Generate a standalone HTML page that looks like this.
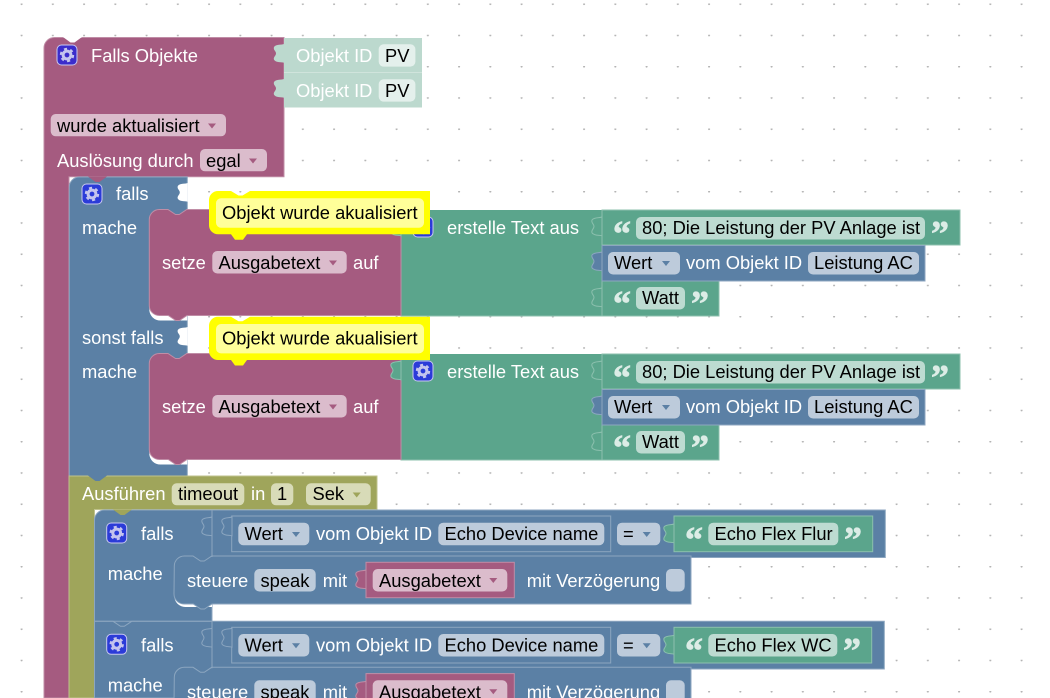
<!DOCTYPE html>
<html><head><meta charset="utf-8"><style>
html,body{margin:0;padding:0;background:#fff;width:1050px;height:698px;overflow:hidden}
svg{display:block}
text{font-family:"Liberation Sans",Arial,sans-serif;font-size:18.33px;fill:#fff;white-space:pre}
.k{fill:#000}
.q{font-family:"Liberation Serif",serif;font-weight:bold;font-size:36px;fill:#dcece6;stroke:#dcece6;stroke-width:.7px}
.p{fill:#dbbccc}.b{fill:#bdcbdb}.g{fill:#bddbd1}.o{fill:#d8dbb8}
</style></head><body>
<svg width="1050" height="698" viewBox="0 0 1050 698" xmlns="http://www.w3.org/2000/svg">
<defs>
<pattern id="dots" x="21" y="3.5" width="31.25" height="31.25" patternUnits="userSpaceOnUse"><circle cx="0.6" cy="0.6" r="1" fill="#b4b4b4"/><circle cx="31.85" cy="0.6" r="1" fill="#b4b4b4"/></pattern>
<path id="tab" d="M0 0C-2 1-8 0-10 3C-11 6-8 7-8 9.4C-8 12-11 13-10 15.8C-8 19-2 18 0 18.8Z"/>
<g id="gear"><rect x="0" y="0" width="20" height="20" rx="4.5" stroke="#c8c8f0" stroke-width="1"/><circle cx="10" cy="10" r="3.9" fill="none" stroke="#c4c4ee" stroke-width="3"/><circle cx="10" cy="10" r="6" fill="none" stroke="#c4c4ee" stroke-width="2.4" stroke-dasharray="3 3.28"/></g>
<g id="tx">
 <rect x="401" y="210" width="201" height="106" fill="#5ba58c"/>
 <rect x="602" y="210" width="358" height="35" fill="#5ba58c" stroke="#8cc0ae"/>
 <rect x="602" y="281" width="117" height="35" fill="#5ba58c" stroke="#8cc0ae"/>
 <rect x="602" y="245.5" width="323" height="35.5" fill="#5b80a5" stroke="#8ca6c0"/>
 <use href="#tab" x="602" y="217" fill="#5ba58c" stroke="#8cc0ae"/>
 <use href="#tab" x="602" y="252" fill="#5b80a5" stroke="#8ca6c0"/>
 <use href="#tab" x="602" y="288" fill="#5ba58c" stroke="#8cc0ae"/>
 <path d="M401 210V316H602" fill="none" stroke="#8cc0ae"/>
 <text x="447" y="234">erstelle Text aus</text>
 <text class="q" x="613" y="245.5">“</text>
 <rect class="g" x="636" y="217" width="289" height="22.5" rx="5"/>
 <text class="k" x="642" y="234">80; Die Leistung der PV Anlage ist</text>
 <text class="q" x="931" y="245.5">”</text>
 <rect class="b" x="608" y="252" width="72" height="22.5" rx="5"/>
 <text class="k" x="614" y="269">Wert</text>
 <polygon points="662,261 670,261 666,266" fill="#5b80a5"/>
 <text x="686" y="269">vom Objekt ID</text>
 <rect class="b" x="808" y="252" width="111" height="22.5" rx="5"/>
 <text class="k" x="814" y="269">Leistung AC</text>
 <text class="q" x="613" y="315.5">“</text>
 <rect class="g" x="636" y="287" width="49" height="22.5" rx="5"/>
 <text class="k" x="642" y="304">Watt</text>
 <text class="q" x="691" y="315.5">”</text>
</g>
<g id="setz">
 <path d="M149.3 300V310a11 11 0 0 0 11 10.5H187.3V300Z" fill="#fff"/>
 <path d="M149.3 219.5a10 10 0 0 1 10-10H168l7.5 5h3.75l7.5-5H401V315.5H187l-7.5 5h-3.75l-7.5-5H159.3a10 10 0 0 1-10-10Z" fill="#a55b80" stroke="#c08da6" stroke-width="1"/>
 <text x="162" y="269">setze</text>
 <rect class="p" x="212.3" y="251" width="134.4" height="22.5" rx="5"/>
 <text class="k" x="218.5" y="269">Ausgabetext</text>
 <polygon points="329,260.5 337,260.5 333,265.5" fill="#a55b80"/>
 <text x="353" y="269">auf</text>
</g>
<g id="yel">
 <path d="M218 191H231l7.5 4.5h4l7.5-4.5H430V234.3H247l-4 5.5h-8l-4-5.5H218a9 9 0 0 1-9-9V200a9 9 0 0 1 9-9Z" fill="#ffff00"/>
 <rect x="216" y="198.3" width="208" height="29.4" rx="5" fill="#ffff99"/>
 <text class="k" x="222" y="219">Objekt wurde akualisiert</text>
</g>
<g id="st">
 <path d="M174.3 590V596a11 11 0 0 0 11 11H212V590Z" fill="#fff"/>
 <path d="M174.3 566a10 10 0 0 1 10-10H193l7.5 5h3.75l7.5-5H691V604H212l-7.5 5h-3.75l-7.5-5H184a10 10 0 0 1-10-10Z" fill="#5b80a5" stroke="#8ca6c0"/>
 <text x="187" y="587">steuere</text>
 <rect class="b" x="254.3" y="569" width="61.4" height="22.5" rx="5"/>
 <text class="k" x="260.5" y="587">speak</text>
 <text x="322.7" y="587">mit</text>
 <rect x="366" y="562.3" width="148.3" height="35.4" fill="#a55b80" stroke="#c08da6"/>
 <use href="#tab" x="366" y="570" fill="#a55b80" stroke="#c08da6"/>
 <rect class="p" x="372.7" y="569" width="134.6" height="22.5" rx="5"/>
 <text class="k" x="379" y="587">Ausgabetext</text>
 <polygon points="489.3,578 497.3,578 493.3,583" fill="#a55b80"/>
 <text x="526.7" y="587">mit Verzögerung</text>
 <rect class="b" x="666" y="569" width="18.7" height="22.5" rx="5"/>
</g>
<g id="cmp">
 <use href="#tab" x="212" y="517" fill="#5b80a5" stroke="#8ca6c0"/>
 <path d="M212 510V557" stroke="#8ca6c0" fill="none"/>
 <rect x="231.7" y="516" width="379" height="35.7" fill="#5b80a5" stroke="#8ca6c0"/>
 <use href="#tab" x="232" y="517" fill="#5b80a5" stroke="#8ca6c0"/>
 <rect class="b" x="238.3" y="522.7" width="71" height="22.5" rx="5"/>
 <text class="k" x="244.5" y="540">Wert</text>
 <polygon points="292,532 300,532 296,537" fill="#5b80a5"/>
 <text x="316" y="540">vom Objekt ID</text>
 <rect class="b" x="438.3" y="522.7" width="166" height="22.5" rx="5"/>
 <text class="k" x="444.5" y="540">Echo Device name</text>
 <rect class="b" x="617" y="522.7" width="43.3" height="22.5" rx="5"/>
 <text class="k" x="623" y="540">=</text>
 <polygon points="642.7,532 650.7,532 646.7,537" fill="#5b80a5"/>
 <text x="141" y="540">falls</text>
 <use href="#gear" x="106.7" y="523" fill="#2b3bd8"/>
 <text x="107.7" y="580">mache</text>
</g>
</defs>
<rect width="1050" height="698" fill="#fff"/>
<rect width="1050" height="698" fill="url(#dots)"/>

<!-- main purple -->
<path d="M44 48a10.5 10.5 0 0 1 10.5-10.5H284V176.7H69V698H44Z" fill="#a55b80" stroke="#c08da6" stroke-width="1"/>
<polygon points="63,37 70.5,42.5 74.5,42.5 82,37" fill="#fff"/>
<use href="#gear" x="57" y="45" fill="#3b2ccb"/>
<text x="91" y="62">Falls Objekte</text>
<rect x="284" y="38" width="138" height="35" fill="#bcd9ce"/>
<rect x="284" y="73" width="138" height="34.5" fill="#bcd9ce"/>
<path d="M284 72.5H422" stroke="#d0e4dc"/>
<use href="#tab" x="284" y="44" fill="#bcd9ce"/>
<use href="#tab" x="284" y="79" fill="#bcd9ce"/>
<text x="296" y="62">Objekt ID</text>
<text x="296" y="97">Objekt ID</text>
<rect x="378.7" y="44.3" width="36.7" height="22.3" rx="5" fill="#e4f0ec"/>
<rect x="378.7" y="79.3" width="36.7" height="22.3" rx="5" fill="#e4f0ec"/>
<text class="k" x="385" y="62">PV</text>
<text class="k" x="385" y="97">PV</text>
<rect class="p" x="50.7" y="114" width="175.3" height="22.3" rx="5"/>
<text class="k" x="57" y="132">wurde aktualisiert</text>
<polygon points="208,123.5 216,123.5 212,128.5" fill="#a55b80"/>
<text x="57" y="167">Auslösung durch</text>
<rect class="p" x="200" y="149" width="67" height="22.3" rx="5"/>
<text class="k" x="206" y="167">egal</text>
<polygon points="249,158.5 257,158.5 253,163.5" fill="#a55b80"/>

<!-- blue if 1 -->
<path d="M69.3 187a10 10 0 0 1 10-10H187.3V476H69.3Z" fill="#5b80a5" stroke="#8ca6c0" stroke-width="1"/>
<polygon points="88,176.5 95.5,182 99.5,182 107,176.5" fill="#a55b80"/>
<use href="#tab" x="187.8" y="183" fill="#fff"/>
<use href="#tab" x="187.8" y="327" fill="#fff"/>
<use href="#gear" x="82" y="184" fill="#2b3bd8"/>
<text x="116" y="200">falls</text>
<text x="82" y="234">mache</text>
<text x="82" y="344">sonst falls</text>
<text x="82" y="378">mache</text>

<!-- green text blocks -->
<use href="#tx"/>
<use href="#tx" y="144"/>
<!-- purple setze -->
<use href="#setz"/>
<use href="#setz" y="144"/>
<use href="#tab" x="401" y="217" fill="#5ba58c" stroke="#8cc0ae"/>
<use href="#tab" x="401" y="361" fill="#5ba58c" stroke="#8cc0ae"/>
<use href="#gear" x="413" y="217" fill="#2b3bd8"/>
<use href="#gear" x="413" y="361" fill="#2b3bd8"/>
<use href="#yel"/>
<use href="#yel" y="125.7"/>

<!-- olive -->
<path d="M69 476H377V509.5H94.5V698H69Z" fill="#9fa55b" stroke="#bfc28c" stroke-width="1"/>
<polygon points="88,475.5 95.5,481 99.5,481 107,475.5" fill="#5b80a5"/>
<text x="82" y="500">Ausführen</text>
<rect class="o" x="171.7" y="483.3" width="72.6" height="22" rx="5"/>
<text class="k" x="178" y="500">timeout</text>
<text x="251" y="500">in</text>
<rect class="o" x="271" y="483.3" width="22.3" height="22" rx="5"/>
<text class="k" x="277" y="500">1</text>
<rect class="o" x="306" y="483.3" width="64.7" height="22" rx="5"/>
<text class="k" x="312.5" y="500">Sek</text>
<polygon points="352.7,492.5 360.7,492.5 356.7,497.5" fill="#9fa55b"/>

<!-- blue falls blocks -->
<path d="M94.5 520a10 10 0 0 1 10-10H885.3V557.5H212V622H94.5Z" fill="#5b80a5" stroke="#8ca6c0" stroke-width="1"/>
<polygon points="113,509.5 120.5,515 124.5,515 132,509.5" fill="#9fa55b"/>
<path d="M94.5 621.3H884.3V669H212V698H94.5Z" fill="#5b80a5" stroke="#8ca6c0" stroke-width="1"/>
<path d="M94.5 621.3H113l7.5 5h3.75l7.5-5H212" fill="none" stroke="#8ca6c0"/>
<use href="#st"/>
<use href="#st" y="111.3"/>
<use href="#cmp"/>
<use href="#cmp" y="111.3"/>

<!-- green echo flur -->
<rect x="674" y="516" width="198.7" height="35.7" fill="#5ba58c" stroke="#8cc0ae"/>
<use href="#tab" x="674" y="524" fill="#5ba58c" stroke="#8cc0ae"/>
<text class="q" x="685" y="551.5">“</text>
<rect class="g" x="708.3" y="522.7" width="130" height="22.5" rx="5"/>
<text class="k" x="714.5" y="540">Echo Flex Flur</text>
<text class="q" x="844" y="551.5">”</text>
<!-- green echo wc -->
<rect x="674" y="627.3" width="197.7" height="35.7" fill="#5ba58c" stroke="#8cc0ae"/>
<use href="#tab" x="674" y="635.3" fill="#5ba58c" stroke="#8cc0ae"/>
<text class="q" x="685" y="662.5">“</text>
<rect class="g" x="708.3" y="634" width="129" height="22.5" rx="5"/>
<text class="k" x="714.5" y="651.5">Echo Flex WC</text>
<text class="q" x="843" y="662.5">”</text>
</svg>
</body></html>
